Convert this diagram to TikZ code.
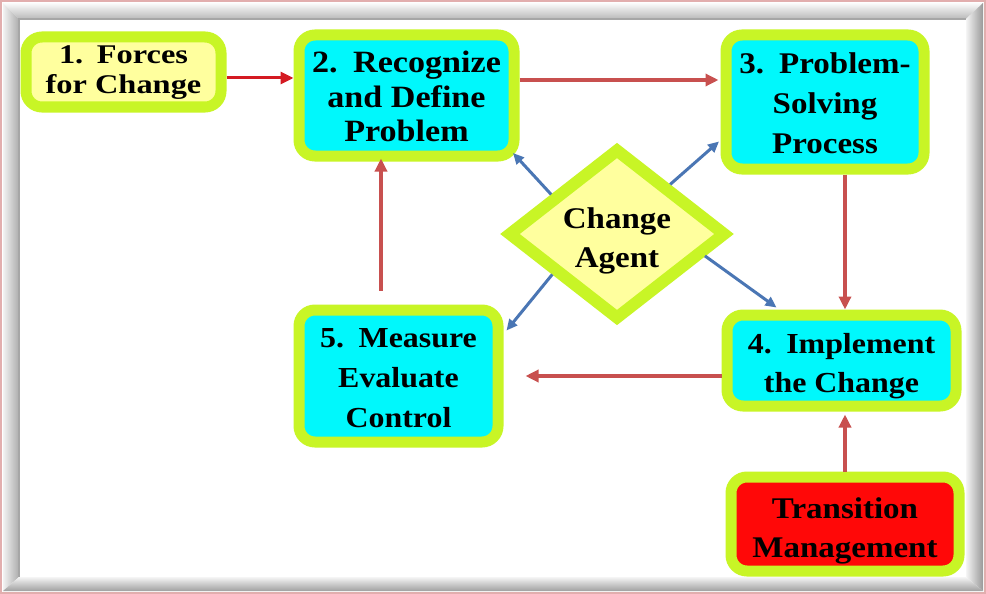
\documentclass[tikz,border=0pt]{standalone}
\usepackage{fontspec}
\setmainfont{Liberation Serif}[FakeStretch=1.1]
\newfontfamily\wideserif{Liberation Serif}[FakeStretch=1.2]
\usetikzlibrary{shapes.geometric,arrows.meta,calc}
\definecolor{limegr}{HTML}{C8F526}
\definecolor{boxcyan}{HTML}{00F8FC}
\definecolor{paleyel}{HTML}{FFFF9E}
\definecolor{boxred}{HTML}{FF0808}
\definecolor{arrdark}{HTML}{D41A22}
\definecolor{arrpink}{HTML}{C8504F}
\definecolor{arrblue}{HTML}{4A76B4}
\definecolor{pinkedge}{HTML}{E2AEAE}
\tikzset{
  box/.style={draw=limegr, line width=11pt, rounded corners=16pt, inner sep=0pt, align=center, text=black},
  arrdk/.style={draw=arrdark, line width=3pt, -{Triangle[length=13pt,width=12pt]}},
  arrpk/.style={draw=arrpink, line width=3.5pt, -{Triangle[length=13pt,width=12pt]}},
  arrbl/.style={draw=arrblue, line width=3pt, -{Triangle[length=11pt,width=10pt]}},
}
\begin{document}
\begin{tikzpicture}[x=1pt,y=-1pt]
\useasboundingbox (0,0) rectangle (986,594);
\fill[white] (0,0) rectangle (986,594);
% frame
\shade[left color=gray!10, right color=gray!65] (3,3) -- (19,19) -- (19,577) -- (3,591) -- cycle;
\shade[top color=gray!3, bottom color=gray!55] (3,3) -- (983,3) -- (966,19) -- (19,19) -- cycle;
\shade[left color=gray!8, right color=gray!80] (966,19) -- (983,3) -- (983,591) -- (966,577) -- cycle;
\shade[top color=gray!8, bottom color=gray!75] (19,577) -- (966,577) -- (983,591) -- (3,591) -- cycle;
\draw[gray!70, line width=2.5pt] (19,577) -- (19,19) -- (966,19);
\draw[pinkedge, line width=2pt] (1,1) rectangle (985,593);

% nodes
\node[box, fill=paleyel, minimum width=195pt, minimum height=70pt, text height=48pt, text depth=6pt,
      font=\wideserif\fontsize{27}{30}\selectfont\bfseries] (n1) at (123.5,72) {1.\enspace Forces\\for Change};
\node[box, fill=boxcyan, minimum width=215pt, minimum height=121pt, text height=100pt, text depth=7pt,
      font=\fontsize{31}{35}\selectfont\bfseries] (n2) at (406.5,95.5) {2.\enspace Recognize\\and Define\\Problem};
\node[box, fill=boxcyan, minimum width=198pt, minimum height=134pt, text height=109pt, text depth=7pt,
      font=\fontsize{30}{40}\selectfont\bfseries] (n3) at (825,102) {3.\enspace Problem-\\Solving\\Process};
\node[box, fill=boxcyan, minimum width=229pt, minimum height=91pt, text height=70pt, text depth=7pt,
      font=\fontsize{29}{39}\selectfont\bfseries] (n4) at (841.5,360.5) {4.\enspace Implement\\the Change};
\node[box, fill=boxcyan, minimum width=199pt, minimum height=132pt, text height=109pt, text depth=7pt,
      font=\fontsize{29}{40}\selectfont\bfseries] (n5) at (398.5,376) {5.\enspace Measure\\Evaluate\\Control};
\node[box, fill=boxred, minimum width=228pt, minimum height=94pt, text height=73pt, text depth=7pt,
      font=\fontsize{30}{39}\selectfont\bfseries] (tm) at (845,524) {Transition\\Management};
\node[diamond, draw=limegr, fill=paleyel, line width=12pt, inner sep=0pt, aspect=1.27,
      minimum width=219pt, minimum height=172pt, align=center, text height=73pt, text depth=7pt,
      font=\fontsize{30}{39}\selectfont\bfseries] (d) at (617,234) {Change\\Agent};

% connectors
\draw[arrdk] ([yshift=-6pt]n1.east) -- ([yshift=-6pt]n1.east -| n2.west);
\draw[arrpk, shorten >=2pt] ([yshift=15.5pt]n2.east) -- ([yshift=15.5pt]n2.east -| n3.west);
\draw[arrpk] ([xshift=20pt]n3.south) -- ([xshift=20pt]n3.south |- n4.north);
\draw[arrpk, shorten >=22pt] ([yshift=-15.5pt]n4.west) -- ([yshift=-15.5pt]n4.west -| n5.east);
\draw[arrpk, shorten <=14pt, shorten >=-3pt] ([xshift=-17.5pt]n5.north) -- ([xshift=-17.5pt]n5.north |- n2.south);
\draw[arrpk, shorten >=3pt] (tm.north) -- (tm.north |- n4.south);

\draw[arrbl] (d.149) -- ([shift={(-6.5,-8.5)}]n2.south east);
\draw[arrbl] (d.43) -- ([shift={(-1.5,-33)}]n3.south west);
\draw[arrbl] (d.212) -- ([shift={(3,26)}]n5.north east);
\draw[arrbl] (d.-14) -- ([shift={(55,-2)}]n4.north west);
\end{tikzpicture}
\end{document}
